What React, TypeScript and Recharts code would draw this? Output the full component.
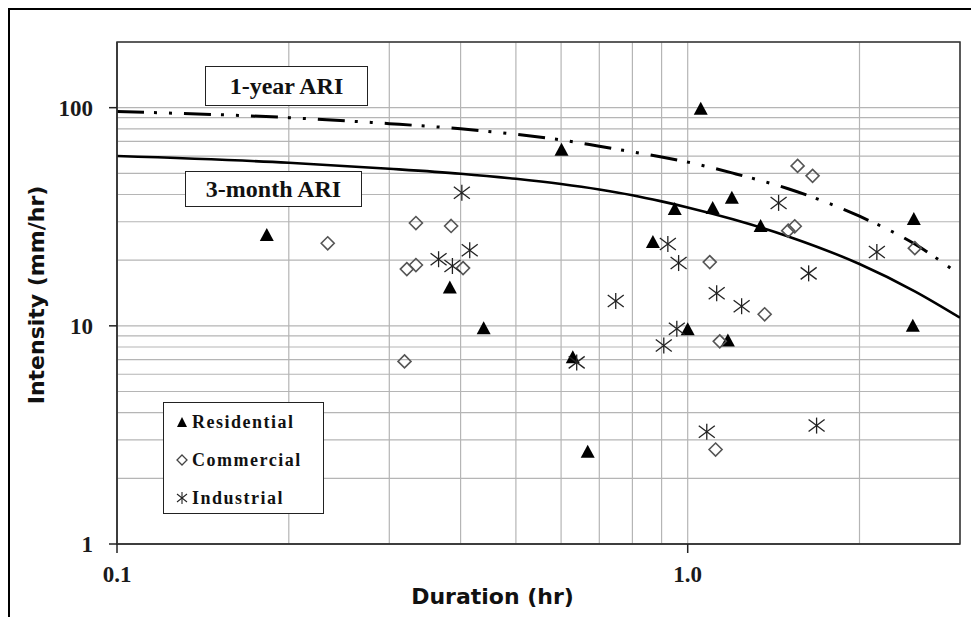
import React from 'react';
import { ComposedChart, Line, Scatter, XAxis, YAxis, CartesianGrid, ReferenceArea, Legend, Label } from 'recharts';

// design curves
const curveDuration = [0.1, 0.2, 0.3, 0.4, 0.5, 0.6, 0.7, 0.8, 0.9, 1.0, 1.2, 1.5, 2.0, 2.5, 3.0];
const oneYearAri = [96, 90, 84.5, 80, 75.5, 71.2, 66.6, 62.7, 59.4, 56.3, 50.1, 42.5, 31.8, 23.7, 17.1];
const threeMonthAri = [60, 55.9, 52.5, 49.8, 47.2, 44.7, 42.2, 39.7, 37.2, 34.9, 30.8, 25.7, 19.2, 14.4, 10.9];

// observed events
const resDuration = [0.183, 0.383, 0.439, 0.601, 1.054, 0.949, 1.106, 1.195, 1.342, 0.869, 0.629, 0.668, 1.0, 1.176, 2.49, 2.48];
const resIntensity = [26.1, 15.0, 9.75, 64.1, 99, 34.3, 34.7, 38.6, 28.7, 24.2, 7.17, 2.65, 9.64, 8.57, 30.9, 10.0];

const comDuration = [0.234, 0.334, 0.385, 0.322, 0.334, 0.404, 0.319, 1.093, 1.364, 1.138, 1.119, 1.558, 1.655, 1.5, 1.54, 2.5];
const comIntensity = [23.9, 29.6, 28.7, 18.2, 19.0, 18.4, 6.87, 19.6, 11.3, 8.49, 2.71, 54.1, 48.7, 27.3, 28.6, 22.7];

const indDuration = [0.402, 0.415, 0.366, 0.387, 0.748, 0.923, 0.964, 0.957, 0.908, 1.124, 1.243, 1.443, 1.629, 1.08, 1.682, 2.145, 0.639];
const indIntensity = [40.7, 22.2, 20.2, 18.8, 13.0, 23.7, 19.4, 9.7, 8.13, 14.1, 12.3, 36.6, 17.4, 3.27, 3.49, 21.8, 6.8];

// axes
const xTicks = [0.1, 1];
const yTicks = [1, 10, 100];
const gridDuration = [0.2, 0.3, 0.4, 0.5, 0.6, 0.7, 0.8, 0.9, 1, 2];
const gridIntensity = [2, 3, 4, 5, 6, 7, 8, 9, 10, 20, 30, 40, 50, 60, 70, 80, 90, 100];

const legendItems = ['Residential', 'Commercial', 'Industrial'];

const zip = (xs: number[], ys: number[]) => xs.map((x, i) => ({ x, y: ys[i] }));

const oneYearData = zip(curveDuration, oneYearAri);
const threeMonthData = zip(curveDuration, threeMonthAri);
const resData = zip(resDuration, resIntensity);
const comData = zip(comDuration, comIntensity);
const indData = zip(indDuration, indIntensity);

const serif = '"Liberation Serif", "Times New Roman", serif';
const sans = '"DejaVu Sans", Verdana, sans-serif';

const Triangle = ({ cx, cy }: any) => (
  <polygon points={`${cx},${cy - 7} ${cx - 7},${cy + 6} ${cx + 7},${cy + 6}`} fill="#000" />
);

const Diamond = ({ cx, cy }: any) => (
  <polygon points={`${cx},${cy - 6.5} ${cx + 6.5},${cy} ${cx},${cy + 6.5} ${cx - 6.5},${cy}`} fill="none" stroke="#555" strokeWidth={1.6} />
);

const Star = ({ cx, cy }: any) => (
  <g stroke="#222" strokeWidth={1.3}>
    <line x1={cx} y1={cy - 8} x2={cx} y2={cy + 8} />
    <line x1={cx - 8} y1={cy - 6} x2={cx + 8} y2={cy + 6} />
    <line x1={cx - 8} y1={cy + 6} x2={cx + 8} y2={cy - 6} />
  </g>
);

const legendIcon = (i: number) => {
  if (i === 0) return <polygon points="6,1 1,11 11,11" fill="#000" />;
  if (i === 1) return <polygon points="6,1 11,6 6,11 1,6" fill="none" stroke="#444" strokeWidth={1.3} />;
  return (
    <g stroke="#222" strokeWidth={1.1}>
      <line x1={6} y1={0} x2={6} y2={12} />
      <line x1={1} y1={2} x2={11} y2={10} />
      <line x1={1} y1={10} x2={11} y2={2} />
    </g>
  );
};

const LegendBox = () => (
  <div style={{ width: 159, height: 110, border: '1.5px solid #222', background: '#fff', boxSizing: 'content-box' }}>
    {legendItems.map((name, i) => (
      <div key={name} style={{ height: 38, display: 'flex', alignItems: 'center', paddingLeft: 12 }}>
        <svg width={12} height={12} style={{ marginRight: 4 }}>{legendIcon(i)}</svg>
        <span style={{ fontFamily: serif, fontWeight: 'bold', fontSize: 18, letterSpacing: 1.5, color: '#111' }}>{name}</span>
      </div>
    ))}
  </div>
);

const boxStyle: React.CSSProperties = {
  position: 'absolute',
  border: '1.5px solid #222',
  background: '#fff',
  display: 'flex',
  alignItems: 'center',
  justifyContent: 'center',
  fontFamily: serif,
  fontWeight: 'bold',
  fontSize: 24,
  color: '#111',
  boxSizing: 'border-box',
};

const tickStyle = { fontFamily: serif, fontWeight: 'bold', fontSize: 23, fill: '#1a1a1a' };

export default function App() {
  return (
    <div style={{ position: 'relative', width: 969, height: 607, borderTop: '2px solid #000', borderLeft: '2px solid #000', background: '#fff' }}>
      <ComposedChart width={969} height={607} margin={{ top: 32, right: 19, bottom: 0, left: 0 }}>
        <XAxis xAxisId="grid" orientation="top" hide type="number" scale="log" dataKey="x" domain={[0.1, 3]} ticks={gridDuration} interval={0} allowDataOverflow height={0} />
        <YAxis yAxisId="grid" orientation="right" hide type="number" scale="log" dataKey="y" domain={[1, 200]} ticks={gridIntensity} interval={0} allowDataOverflow width={0} />
        <CartesianGrid xAxisId="grid" yAxisId="grid" stroke="#b5b5b5" strokeWidth={1.2} />
        <XAxis
          xAxisId="main"
          type="number"
          scale="log"
          dataKey="x"
          domain={[0.1, 3]}
          ticks={xTicks}
          interval={0}
          allowDataOverflow
          height={73}
          tickSize={9}
          tickMargin={13}
          tickLine={{ stroke: '#222', strokeWidth: 1.5 }}
          axisLine={{ stroke: '#333', strokeWidth: 1.5 }}
          tick={tickStyle}
          tickFormatter={(v: number) => (v >= 1 ? v.toFixed(1) : String(v))}
        >
          <Label
            content={(p: any) => {
              const vb = p.viewBox || { x: 107, y: 534, width: 843, height: 73 };
              return (
                <text x={vb.x + vb.width / 2 - 46} y={vb.y + vb.height - 13} textAnchor="middle" fontFamily={sans} fontWeight="bold" fontSize={22} fill="#111">
                  Duration (hr)
                </text>
              );
            }}
          />
        </XAxis>
        <YAxis
          yAxisId="main"
          type="number"
          scale="log"
          dataKey="y"
          domain={[1, 200]}
          ticks={yTicks}
          interval={0}
          allowDataOverflow
          width={107}
          tickSize={8}
          tickMargin={16}
          tickLine={{ stroke: '#222', strokeWidth: 1.5 }}
          axisLine={{ stroke: '#333', strokeWidth: 1.5 }}
          tick={tickStyle}
        >
          <Label
            content={(p: any) => {
              const vb = p.viewBox || { x: 0, y: 32, width: 107, height: 502 };
              const cx = vb.x + 26;
              const cy = vb.y + vb.height / 2 + 2;
              return (
                <text x={cx} y={cy} dy={8} transform={`rotate(-90 ${cx} ${cy})`} textAnchor="middle" fontFamily={sans} fontWeight="bold" fontSize={22} fill="#111">
                  Intensity (mm/hr)
                </text>
              );
            }}
          />
        </YAxis>
        <ReferenceArea xAxisId="main" yAxisId="main" x1={0.1} x2={3} y1={1} y2={200} fill="none" stroke="#333" strokeWidth={1.5} />
        <Line xAxisId="main" yAxisId="main" data={oneYearData} dataKey="y" type="monotone" stroke="#000" strokeWidth={3} strokeDasharray="27 10 3 12 3 12" dot={false} isAnimationActive={false} legendType="none" />
        <Line xAxisId="main" yAxisId="main" data={threeMonthData} dataKey="y" type="monotone" stroke="#000" strokeWidth={2.6} dot={false} isAnimationActive={false} legendType="none" />
        <Scatter xAxisId="main" yAxisId="main" name="Residential" data={resData} shape={Triangle} isAnimationActive={false} />
        <Scatter xAxisId="main" yAxisId="main" name="Commercial" data={comData} shape={Diamond} isAnimationActive={false} />
        <Scatter xAxisId="main" yAxisId="main" name="Industrial" data={indData} shape={Star} isAnimationActive={false} />
        <Legend
          layout="vertical"
          align="center"
          verticalAlign="middle"
          content={() => <LegendBox />}
          wrapperStyle={{ left: 153, top: 392, width: 162, height: 113 }}
        />
      </ComposedChart>
      <div style={{ ...boxStyle, left: 195, top: 56, width: 163, height: 40 }}>1-year ARI</div>
      <div style={{ ...boxStyle, left: 175, top: 161, width: 177, height: 36 }}>3-month ARI</div>
    </div>
  );
}
